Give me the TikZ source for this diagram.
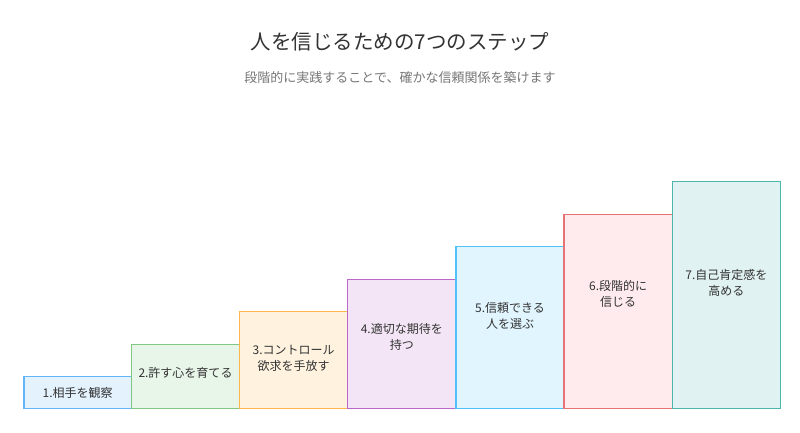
\documentclass[tikz,border=0pt]{standalone}
\usepackage{fontspec}
\setmainfont{Noto Sans CJK JP}
\usepackage{tikz}
\definecolor{bluefill}{HTML}{E3F2FD}\definecolor{bluedraw}{HTML}{64B5F6}
\definecolor{greenfill}{HTML}{E8F5E9}\definecolor{greendraw}{HTML}{81C784}
\definecolor{orangefill}{HTML}{FFF3E0}\definecolor{orangedraw}{HTML}{FFB74D}
\definecolor{purplefill}{HTML}{F3E5F5}\definecolor{purpledraw}{HTML}{BA68C8}
\definecolor{cyanfill}{HTML}{E1F5FE}\definecolor{cyandraw}{HTML}{4FC3F7}
\definecolor{redfill}{HTML}{FFEBEE}\definecolor{reddraw}{HTML}{E57373}
\definecolor{tealfill}{HTML}{E0F2F1}\definecolor{tealdraw}{HTML}{4DB6AC}
\definecolor{titlegray}{HTML}{333333}
\definecolor{subgray}{HTML}{777777}
\tikzset{
	steplabel/.style={text=titlegray, align=center, font=\fontsize{12}{16}\selectfont, inner sep=0pt},
	stepbar/.style={line width=1.5pt}
}

\begin{document}
\begin{tikzpicture}[x=1pt, y=-1pt]
			%%%%% START %%%%%
			
			\useasboundingbox[fill=white] (0, 0) rectangle (800, 432);
			
			\node[text=titlegray, font=\fontsize{20.5}{24}\selectfont, inner sep=0pt] (title) at (400, 42) {人を信じるための7つのステップ};
			\node[text=subgray, font=\fontsize{13}{16}\selectfont, inner sep=0pt] (subtitle) at (400, 78) {段階的に実践することで、確かな信頼関係を築けます};
			
			\draw[stepbar, draw=bluedraw, fill=bluefill] (24, 408.5) rectangle (131.5, 376.5);
			\draw[stepbar, draw=greendraw, fill=greenfill] (131.5, 408.5) rectangle (239.5, 344.3);
			\draw[stepbar, draw=orangedraw, fill=orangefill] (239.5, 408.5) rectangle (347.7, 311.7);
			\draw[stepbar, draw=purpledraw, fill=purplefill] (347.7, 408.5) rectangle (456, 279.3);
			\draw[stepbar, draw=cyandraw, fill=cyanfill] (456, 408.5) rectangle (564.2, 246.7);
			\draw[stepbar, draw=reddraw, fill=redfill] (564.2, 408.5) rectangle (672.3, 214.3);
			\draw[stepbar, draw=tealdraw, fill=tealfill] (672.3, 408.5) rectangle (780.5, 181.7);
			
			\node[steplabel] (stepA) at (77.7, 393) {1.相手を観察};
			\node[steplabel] (stepB) at (185.5, 372.7) {2.許す心を育てる};
			\node[steplabel] (stepC) at (293.6, 358.3) {3.コントロール\\欲求を手放す};
			\node[steplabel] (stepD) at (401.8, 336.5) {4.適切な期待を\\持つ};
			\node[steplabel] (stepE) at (510.1, 316) {5.信頼できる\\人を選ぶ};
			\node[steplabel] (stepF) at (618.2, 294) {6.段階的に\\信じる};
			\node[steplabel] (stepG) at (726.4, 282.5) {7.自己肯定感を\\高める};
			
			%%%%% END %%%%%
		\end{tikzpicture}
\end{document}
